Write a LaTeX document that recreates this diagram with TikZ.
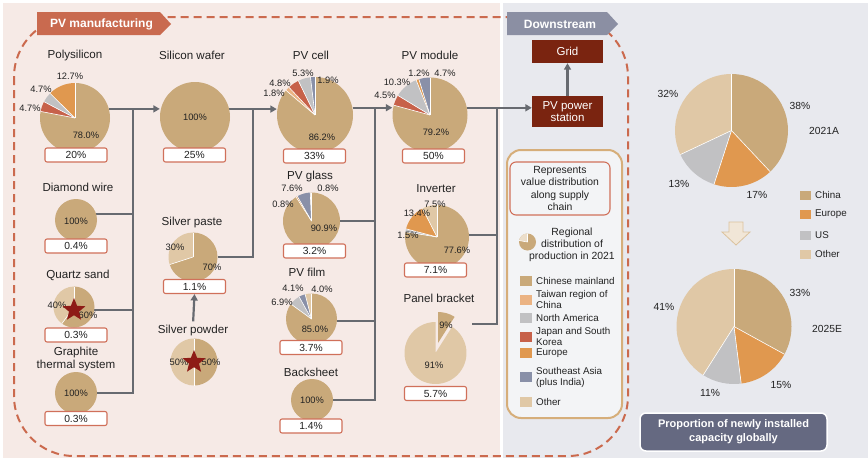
\documentclass[tikz,border=0pt]{standalone}
\usepackage{fontspec}
\setmainfont{Liberation Sans}
\usetikzlibrary{shapes.geometric,arrows.meta,calc}

\definecolor{cchina}{HTML}{C9A97A}
\definecolor{ctaiwan}{HTML}{EBB383}
\definecolor{cna}{HTML}{C1C1C3}
\definecolor{cjk}{HTML}{C7614A}
\definecolor{ceu}{HTML}{E0984F}
\definecolor{csea}{HTML}{8990A8}
\definecolor{cother}{HTML}{E0C8A6}
\definecolor{bgpink}{HTML}{F6EAE6}
\definecolor{bggray}{HTML}{E8E9EE}
\definecolor{conncol}{HTML}{676A70}
\definecolor{rust}{HTML}{CB6A4E}
\definecolor{boxred}{HTML}{D0705A}
\definecolor{tagred}{HTML}{C96A4F}
\definecolor{tagblue}{HTML}{8B8FA3}
\definecolor{darkred}{HTML}{7A2410}
\definecolor{starred}{HTML}{8E1B16}
\definecolor{slate}{HTML}{656981}
\definecolor{legendtan}{HTML}{D6AE7A}
\definecolor{txt}{HTML}{222222}

% pie drawn clockwise from the top; #1 node, #2 radius, #3 list pct/colour
\newcommand{\drawpie}[3]{%
  \gdef\piecum{0}%
  \foreach \pct/\col in {#3}{%
    \pgfmathsetmacro\aA{-90+3.6*\piecum}%
    \pgfmathsetmacro\aB{-90+3.6*(\piecum+\pct)}%
    \fill[\col] (#1.center) -- ++(\aA:#2) arc[start angle=\aA, end angle=\aB, radius=#2] -- cycle;%
    \pgfmathsetmacro\piecumnew{\piecum+\pct}%
    \xdef\piecum{\piecumnew}%
  }%
  \gdef\piecum{0}%
  \foreach \pct/\col in {#3}{%
    \pgfmathsetmacro\aA{-90+3.6*\piecum}%
    \draw[white, line width=0.6pt] (#1.center) -- ++(\aA:#2);%
    \pgfmathsetmacro\piecumnew{\piecum+\pct}%
    \xdef\piecum{\piecumnew}%
  }%
}
\newcommand{\fullpie}[2]{\fill[cchina] (#1.center) circle[radius=#2];}

\tikzset{
  piebase/.style={circle, inner sep=0, minimum size=#1},
  title/.style={font=\fontsize{11.6}{13.5}\selectfont, text=txt, inner sep=0, align=center},
  pct/.style={font=\fontsize{9.3}{11}\selectfont, text=txt, inner sep=0},
  valbox/.style={draw=boxred, fill=white, line width=1.1pt, rounded corners=2pt,
    minimum width=62pt, minimum height=14pt, inner sep=0, font=\fontsize{10.3}{12}\selectfont, text=txt},
  conn/.style={draw=conncol, line width=2.2pt},
  arr/.style={-{Triangle[length=6.5pt,width=7pt]}},
  tagtext/.style={text=white, font=\bfseries\fontsize{12}{14}\selectfont, inner sep=0},
  downbox/.style={fill=darkred, text=white, minimum width=71pt, inner sep=0,
    font=\fontsize{11.5}{13.5}\selectfont, align=center},
  legtext/.style={font=\fontsize{9.8}{11}\selectfont, text=txt, inner sep=0, align=left, anchor=west},
  swatch/.style={minimum width=12pt, minimum height=10pt, inner sep=0},
  rswatch/.style={minimum width=11pt, minimum height=9pt, inner sep=0},
  rpct/.style={font=\fontsize{10.3}{12}\selectfont, text=txt, inner sep=0},
  starmark/.style={star, star points=5, star point ratio=2.3, fill=starred, inner sep=0, minimum size=24pt},
}

\begin{document}
\begin{tikzpicture}[x=1pt, y=-1pt]
\useasboundingbox (0,0) rectangle (868,458);

% panels
\fill[white] (0,0) rectangle (868,458);
\fill[bgpink] (3,3) rectangle (500,458);
\fill[bggray] (503,3) rectangle (868,458);

% dashed outline of the supply chain
\draw[rust, line width=2pt, dash pattern=on 8pt off 5pt, rounded corners=60pt] (14,17) rectangle (628,456);

% section tags
\fill[tagred] (37,12) -- (160,12) -- (171,24) -- (160,35) -- (37,35) -- cycle;
\node[tagtext] (tagpv) at (101.5,24) {PV manufacturing};
\fill[tagblue] (507,12) -- (607,12) -- (618,24) -- (607,35) -- (507,35) -- cycle;
\node[tagtext] (tagdown) at (560,24) {Downstream};

% downstream boxes
\node[downbox, minimum height=23pt] (grid) at (567.5,51.5) {Grid};
\node[downbox, minimum height=31pt] (station) at (567.5,111.5) {PV power\\[-1pt]station};

% pie anchors
\node[piebase=70pt] (poly) at (75,118) {};
\node[piebase=70pt] (wafer) at (195,117) {};
\node[piebase=76pt] (cell) at (315,115) {};
\node[piebase=75pt] (module) at (430,115) {};
\node[piebase=42pt] (dwire) at (76,220) {};
\node[piebase=41pt] (quartz) at (74,307) {};
\node[piebase=42pt] (graphite) at (76,393) {};
\node[piebase=49pt] (paste) at (193,257) {};
\node[piebase=47pt] (powder) at (194,362) {};
\node[piebase=57pt] (glass) at (311.5,221) {};
\node[piebase=51pt] (film) at (311.5,319) {};
\node[piebase=42pt] (backsheet) at (312,400) {};
\node[piebase=64pt] (inverter) at (437,237) {};
\node[piebase=62pt] (bracket) at (435.5,353) {};
\node[piebase=113pt] (pieA) at (731.5,130.5) {};
\node[piebase=115pt] (pieE) at (734,326.5) {};

% connectors
\coordinate (busA) at (133,109);
\coordinate (busB) at (253,109);
\coordinate (busC) at (375,108);
\coordinate (busD) at (497,108);
\coordinate (bracketend) at (472,324);
\draw[conn] (graphite.east) -| (busA);
\draw[conn] (dwire.16) -- (dwire.16 -| busA);
\draw[conn] (quartz.-8) -- (quartz.-8 -| busA);
\draw[conn, arr] (poly.15) -- (poly.15 -| wafer.west);
\draw[conn] (paste.east) -| (busB);
\draw[conn, arr] (wafer.13) -- (wafer.13 -| cell.west);
\draw[conn] (backsheet.east) -| (busC);
\draw[conn] (glass.east) -- (glass.east -| busC);
\draw[conn] (film.-4) -- (film.-4 -| busC);
\draw[conn, arr] (cell.11) -- (cell.11 -| module.west);
\draw[conn] (bracketend) -| (busD);
\draw[conn] (inverter.4) -- (inverter.4 -| busD);
\draw[conn, arr] (module.11) -- (module.11 -| station.west);
\draw[conn, arr] (station.north) -- (grid.south);

% pies
\drawpie{poly}{35}{78.0/cchina, 4.7/cjk, 4.7/cna, 12.7/ceu}
\fullpie{wafer}{35}
\drawpie{cell}{38}{86.2/cchina, 1.8/ctaiwan, 4.8/cjk, 5.3/cna, 1.9/csea}
\drawpie{module}{37.5}{79.2/cchina, 4.5/cjk, 10.3/cna, 1.2/ceu, 4.7/csea}
\fullpie{dwire}{21}
\drawpie{quartz}{20.5}{60/cchina, 40/cother}
\fullpie{graphite}{21}
\drawpie{paste}{24.5}{70/cchina, 30/cother}
\drawpie{powder}{23.5}{50/cchina, 50/cother}
\drawpie{glass}{28.5}{90.9/cchina, 0.8/ceu, 7.6/csea, 0.8/cother}
\drawpie{film}{25.5}{85.0/cchina, 6.9/cna, 4.1/csea, 4.0/cother}
\fullpie{backsheet}{21}
\drawpie{inverter}{32}{77.6/cchina, 1.5/cna, 13.4/ceu, 7.5/cother}
% panel bracket with its share pulled out
\fill[cother] (bracket.center) -- ++(-57.6:31) arc[start angle=-57.6, end angle=270, radius=31] -- cycle;
\fill[cchina] ($(bracket.center)+(2.5,-10)$) -- ++(-90:31) arc[start angle=-90, end angle=-57.6, radius=31] -- cycle;
\drawpie{pieA}{56.5}{38/cchina, 17/ceu, 13/cna, 32/cother}
\drawpie{pieE}{57.5}{33/cchina, 15/ceu, 11/cna, 41/cother}

% titles
\node[title] (tpoly) at (75,55) {Polysilicon};
\node[title] (twafer) at (192,55) {Silicon wafer};
\node[title] (tcell) at (311,55) {PV cell};
\node[title] (tmodule) at (430,55) {PV module};
\node[title] (tdwire) at (78,187) {Diamond wire};
\node[title] (tquartz) at (78,275) {Quartz sand};
\node[title] (tgraphite) at (76,359) {Graphite\\[-0.5pt]thermal system};
\node[title] (tpaste) at (192,222) {Silver paste};
\node[title] (tpowder) at (193,330) {Silver powder};
\node[title] (tglass) at (310,176) {PV glass};
\node[title] (tfilm) at (307,272) {PV film};
\node[title] (tbacksheet) at (311,372) {Backsheet};
\node[title] (tinverter) at (436,189) {Inverter};
\node[title] (tbracket) at (439,298) {Panel bracket};

% value boxes
\node[valbox] (bpoly) at (76,155) {20\%};
\node[valbox] (bwafer) at (194.5,155) {25\%};
\node[valbox] (bcell) at (314.5,156) {33\%};
\node[valbox] (bmodule) at (433.5,156) {50\%};
\node[valbox] (bdwire) at (76,246) {0.4\%};
\node[valbox] (bquartz) at (76,335) {0.3\%};
\node[valbox] (bgraphite) at (76,418.5) {0.3\%};
\node[valbox] (bpaste) at (194.5,286.5) {1.1\%};
\node[valbox] (bglass) at (314.5,251) {3.2\%};
\node[valbox] (bfilm) at (311,347.5) {3.7\%};
\node[valbox] (bbacksheet) at (311,426) {1.4\%};
\node[valbox] (binverter) at (435.5,270) {7.1\%};
\node[valbox] (bbracket) at (435.5,393.5) {5.7\%};

\draw[conn, arr, shorten <=3pt] (tpowder.north) -- (bpaste.south);

% percentage labels
\node[pct] (p1) at (70,76) {12.7\%};
\node[pct] (p2) at (41,89) {4.7\%};
\node[pct] (p3) at (30,108) {4.7\%};
\node[pct] (p4) at (86,135) {78.0\%};
\node[pct] (p5) at (195,117) {100\%};
\node[pct] (p6) at (303,73) {5.3\%};
\node[pct] (p7) at (328,80) {1.9\%};
\node[pct] (p8) at (280,83) {4.8\%};
\node[pct] (p9) at (274,93) {1.8\%};
\node[pct] (p10) at (322,137) {86.2\%};
\node[pct] (p11) at (385,95) {4.5\%};
\node[pct] (p12) at (397,82) {10.3\%};
\node[pct] (p13) at (419,73) {1.2\%};
\node[pct] (p14) at (445,73) {4.7\%};
\node[pct] (p15) at (436,132) {79.2\%};
\node[pct] (p16) at (76,221) {100\%};
\node[pct] (p17) at (57,305) {40\%};
\node[pct] (p18) at (88,315) {60\%};
\node[pct] (p19) at (76,393) {100\%};
\node[pct] (p20) at (175,247) {30\%};
\node[pct] (p21) at (212,267) {70\%};
\node[pct] (p22) at (179,362) {50\%};
\node[pct] (p23) at (211,362) {50\%};
\node[pct] (p24) at (292,188) {7.6\%};
\node[pct] (p25) at (328,188) {0.8\%};
\node[pct] (p26) at (283,204) {0.8\%};
\node[pct] (p27) at (324,228) {90.9\%};
\node[pct] (p28) at (282,302) {6.9\%};
\node[pct] (p29) at (293,288) {4.1\%};
\node[pct] (p30) at (322,289) {4.0\%};
\node[pct] (p31) at (315,329) {85.0\%};
\node[pct] (p32) at (312,400) {100\%};
\node[pct] (p33) at (435,204) {7.5\%};
\node[pct] (p34) at (417,213) {13.4\%};
\node[pct] (p35) at (408,235) {1.5\%};
\node[pct] (p36) at (457,250) {77.6\%};
\node[pct] (p37) at (446,325) {9\%};
\node[pct] (p38) at (434,365) {91\%};

% stars
\node[starmark] (starq) at (74,310) {};
\node[starmark] (starp) at (194,362) {};

% legend of regions
\draw[legendtan, line width=2pt, fill=white!50!bggray, rounded corners=14pt] (507,150) rectangle (622,418);
\node[draw=boxred, line width=1.1pt, rounded corners=6pt, minimum width=100pt, minimum height=53pt,
  inner sep=0, align=center, font=\fontsize{10.4}{12.3}\selectfont, text=txt] (repbox) at (560,188.5)
  {Represents\\value distribution\\along supply\\chain};
\node[circle, inner sep=0, minimum size=17pt] (icon) at (527.5,242) {};
\fill[cchina] (icon.center) circle[radius=8.5];
\fill[cother!60!white] (icon.center) -- ++(-90:8.5) arc[start angle=-90, end angle=-170, radius=8.5] -- cycle;
\draw[white, line width=0.6pt] (icon.center) -- ++(-90:8.5) (icon.center) -- ++(-170:8.5);
\node[align=center, inner sep=0, font=\fontsize{10.4}{12.3}\selectfont, text=txt] (regtext) at (572,245)
  {Regional\\distribution of\\production in 2021};

\node[swatch, fill=cchina] (s1) at (526,281) {};
\node[legtext] (l1) at (536,281) {Chinese mainland};
\node[swatch, fill=ctaiwan] (s2) at (526,299.5) {};
\node[legtext] (l2) at (536,299.5) {Taiwan region of\\China};
\node[swatch, fill=cna] (s3) at (526,318) {};
\node[legtext] (l3) at (536,318) {North America};
\node[swatch, fill=cjk] (s4) at (526,337) {};
\node[legtext] (l4) at (536,336.5) {Japan and South\\Korea};
\node[swatch, fill=ceu] (s5) at (526,353) {};
\node[legtext] (l5) at (536,353) {Europe};
\node[swatch, fill=csea] (s6) at (526,377) {};
\node[legtext] (l6) at (536,377) {Southeast Asia\\(plus India)};
\node[swatch, fill=cother] (s7) at (526,402) {};
\node[legtext] (l7) at (536,402) {Other};

% global installation pies
\node[rpct] (r1) at (800,106) {38\%};
\node[rpct] (r2) at (757,195) {17\%};
\node[rpct] (r3) at (679,184) {13\%};
\node[rpct] (r4) at (668,94) {32\%};
\node[rpct] (r5) at (824,131) {2021A};
\node[rpct] (r6) at (800,293) {33\%};
\node[rpct] (r7) at (781,385) {15\%};
\node[rpct] (r8) at (710,393) {11\%};
\node[rpct] (r9) at (664,307) {41\%};
\node[rpct] (r10) at (827,329) {2025E};

\node[rswatch, fill=cchina] (rs1) at (805.5,195) {};
\node[legtext] (rl1) at (815,195) {China};
\node[rswatch, fill=ceu] (rs2) at (805.5,214.5) {};
\node[legtext] (rl2) at (815,214.5) {Europe};
\node[rswatch, fill=cna] (rs3) at (805.5,235) {};
\node[legtext] (rl3) at (815,235) {US};
\node[rswatch, fill=cother] (rs4) at (805.5,254) {};
\node[legtext] (rl4) at (815,254) {Other};

\fill[draw=cother!80!cchina, fill=cother!45!white, line width=0.8pt]
  (729,222) -- (743,222) -- (743,232) -- (750,232) -- (736,245) -- (722,232) -- (729,232) -- cycle;

\node[fill=slate, draw=white, line width=1.5pt, rounded corners=6pt, minimum width=187pt, minimum height=38pt,
  inner sep=0, align=center, text=white, font=\bfseries\fontsize{11}{14}\selectfont] (capbox) at (733.5,432)
  {Proportion of newly installed\\capacity globally};

\end{tikzpicture}
\end{document}
